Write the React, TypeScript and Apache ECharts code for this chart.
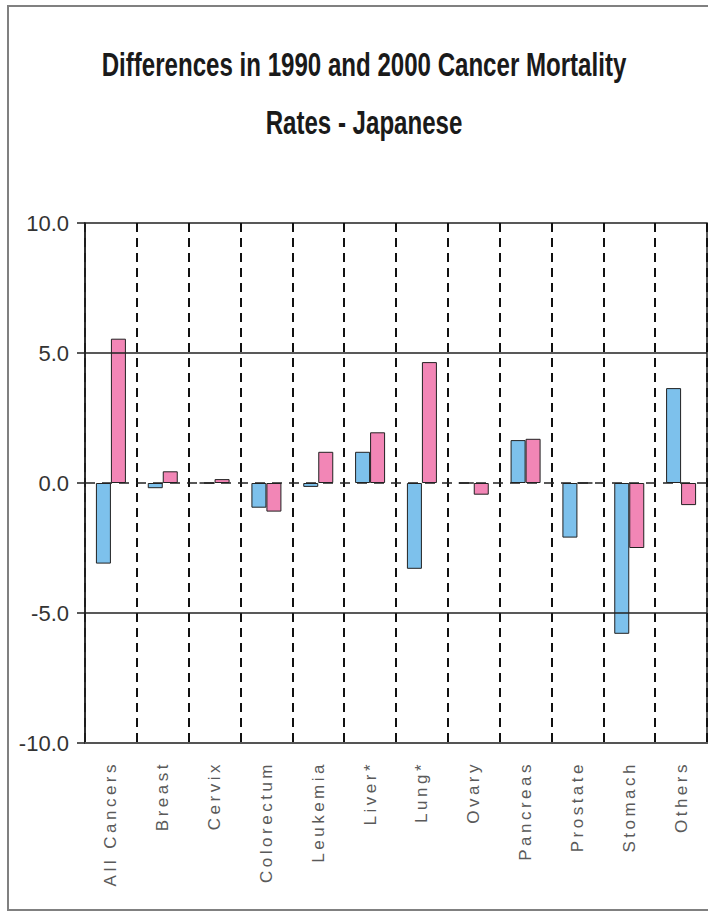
import React, { useEffect, useRef } from "react";
import * as echarts from "echarts";

const categories = [
  "All Cancers",
  "Breast",
  "Cervix",
  "Colorectum",
  "Leukemia",
  "Liver*",
  "Lung*",
  "Ovary",
  "Pancreas",
  "Prostate",
  "Stomach",
  "Others",
];
const blueValues = [-3.1, -0.2, 0, -0.95, -0.15, 1.2, -3.3, 0, 1.65, -2.1, -5.8, 3.65];
const pinkValues = [5.55, 0.45, 0.15, -1.1, 1.2, 1.95, 4.65, -0.45, 1.7, 0, -2.5, -0.85];
const yMin = -10;
const yMax = 10;
const yStep = 5;
const solidLevels = [5, -5];
const dashedLevels = [0];
const titleLines = ["Differences in 1990 and 2000 Cancer Mortality", "Rates - Japanese"];

const SANS = "'Liberation Sans', sans-serif";

export default function App() {
  const ref = useRef<HTMLDivElement>(null);
  useEffect(() => {
    if (!ref.current) return;
    const chart = echarts.init(ref.current, null, { renderer: "svg" });
    chart.setOption({
      animation: false,
      backgroundColor: "#fff",
      graphic: [
        {
          type: "rect",
          shape: { x: 8, y: 6, width: 760, height: 904 },
          style: { fill: "none", stroke: "#808080", lineWidth: 2 },
          silent: true,
        },
        {
          type: "text",
          x: 364,
          y: 65,
          scaleX: 0.73,
          style: {
            text: titleLines[0],
            textAlign: "center",
            textVerticalAlign: "middle",
            font: `bold 33px ${SANS}`,
            fill: "#1a1a1a",
          },
        },
        {
          type: "text",
          x: 364,
          y: 123,
          scaleX: 0.73,
          style: {
            text: titleLines[1],
            textAlign: "center",
            textVerticalAlign: "middle",
            font: `bold 33px ${SANS}`,
            fill: "#1a1a1a",
          },
        },
      ],
      grid: {
        left: 85,
        top: 223,
        right: 1,
        bottom: 169,
        show: true,
        borderColor: "#222",
        borderWidth: 1.5,
        backgroundColor: "transparent",
      },
      xAxis: {
        type: "category",
        data: categories,
        axisLine: { onZero: false, lineStyle: { color: "#555", width: 2 } },
        axisTick: { show: false },
        axisLabel: {
          interval: 0,
          rotate: 90,
          margin: 18,
          fontFamily: "Arial",
          fontSize: 17,
          color: "#5a5a5a",
        },
        splitLine: {
          show: true,
          interval: 0,
          lineStyle: { color: "#111", width: 2, type: [9, 6] },
        },
      },
      yAxis: {
        type: "value",
        min: yMin,
        max: yMax,
        interval: yStep,
        axisLine: { show: true, lineStyle: { color: "#222", width: 1.5 } },
        axisTick: { show: true, inside: false, length: 8, lineStyle: { color: "#222", width: 1.5 } },
        axisLabel: {
          margin: 16,
          fontFamily: SANS,
          fontSize: 22,
          color: "#333",
          padding: [8, 0, 0, 0],
          formatter: (v: number) => v.toFixed(1),
        },
        splitLine: { show: false },
      },
      series: [
        {
          name: "Blue",
          type: "bar",
          data: blueValues,
          barWidth: 15,
          barGap: "0%",
          itemStyle: { color: "#7DC1EC", borderColor: "#222", borderWidth: 1 },
          markLine: {
            silent: true,
            symbol: "none",
            label: { show: false },
            data: [
              ...solidLevels.map((v) => ({
                yAxis: v,
                lineStyle: { color: "#222", width: 1.5, type: "solid" },
              })),
              ...dashedLevels.map((v) => ({
                yAxis: v,
                lineStyle: { color: "#222", width: 1.5, type: [10, 7] },
              })),
            ],
          },
        },
        {
          name: "Pink",
          type: "bar",
          data: pinkValues,
          barWidth: 15,
          barGap: "0%",
          itemStyle: { color: "#F286B6", borderColor: "#222", borderWidth: 1 },
        },
      ],
    });
    return () => chart.dispose();
  }, []);
  return (
    <>
      <style>{`text[style*="Arial"], text[font-family*="Arial"] { letter-spacing: 3.5px; }`}</style>
      <div
        ref={ref}
        style={{ position: "absolute", left: 0, top: 0, width: 708, height: 912 }}
      />
    </>
  );
}
